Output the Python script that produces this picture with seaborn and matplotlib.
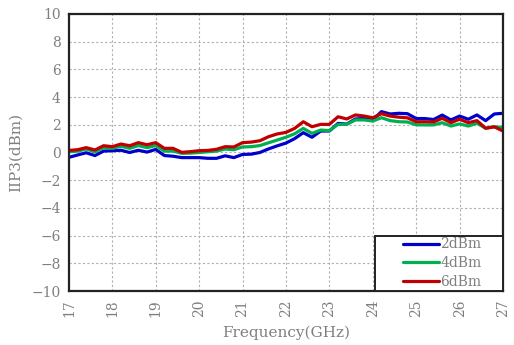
import numpy as np
import pandas as pd
import seaborn as sns
import matplotlib
matplotlib.use("Agg")
import matplotlib.pyplot as plt
from matplotlib.patches import Rectangle

freq = [17.0 + 0.2 * i for i in range(51)]

iip3_2dbm = [-0.35, -0.18, -0.02, -0.22, 0.10, 0.13, 0.16, 0.00, 0.16, 0.03,
             0.22, -0.22, -0.27, -0.37, -0.37, -0.37, -0.42, -0.42, -0.24, -0.37,
             -0.14, -0.12, 0.00, 0.26, 0.48, 0.68, 1.00, 1.43, 1.10, 1.55,
             1.55, 2.10, 2.05, 2.42, 2.45, 2.35, 2.95, 2.78, 2.83, 2.80,
             2.45, 2.45, 2.38, 2.70, 2.35, 2.63, 2.40, 2.71, 2.30, 2.78,
             2.83]
iip3_4dbm = [0.05, 0.10, 0.25, 0.05, 0.35, 0.30, 0.45, 0.30, 0.50, 0.35,
             0.50, 0.10, 0.10, -0.06, -0.05, 0.00, 0.05, 0.10, 0.25, 0.20,
             0.40, 0.42, 0.50, 0.70, 0.90, 1.10, 1.35, 1.74, 1.38, 1.62,
             1.58, 2.03, 2.03, 2.35, 2.35, 2.27, 2.51, 2.30, 2.22, 2.20,
             2.00, 1.99, 1.99, 2.15, 1.91, 2.06, 1.91, 2.11, 1.75, 1.86,
             1.80]
iip3_6dbm = [0.15, 0.20, 0.35, 0.18, 0.49, 0.42, 0.61, 0.49, 0.71, 0.56,
             0.71, 0.30, 0.30, 0.01, 0.06, 0.13, 0.15, 0.23, 0.42, 0.40,
             0.71, 0.75, 0.85, 1.14, 1.34, 1.45, 1.74, 2.22, 1.86, 2.03,
             2.03, 2.58, 2.42, 2.71, 2.63, 2.51, 2.80, 2.63, 2.55, 2.50,
             2.22, 2.22, 2.20, 2.47, 2.15, 2.40, 2.15, 2.30, 1.75, 1.85,
             1.55]

series = ["2dBm", "4dBm", "6dBm"]
colors = ["#0000CC", "#00B050", "#C00000"]

df = pd.DataFrame({
    "Frequency": freq * 3,
    "IIP3": iip3_2dbm + iip3_4dbm + iip3_6dbm,
    "Power": [s for s in series for _ in freq],
})

sns.set_theme(style="white")
plt.rcParams["font.family"] = ["DejaVu Serif"]
text_gray = "#7f7f7f"

fig = plt.figure(figsize=(5.14, 3.45), dpi=100)
ax = fig.add_axes([0.134, 0.1565, 0.8446, 0.803])

sns.lineplot(data=df, x="Frequency", y="IIP3", hue="Power",
             palette=dict(zip(series, colors)), linewidth=2.3,
             ax=ax, legend=False)

ax.set_xlim(17, 27)
ax.set_ylim(-10, 10)
ax.set_xticks(range(17, 28))
ax.set_yticks(range(-10, 11, 2))
ax.set_yticklabels([f"{v}".replace("-", "\u2212") for v in range(-10, 11, 2)])
ax.tick_params(axis="both", length=0, labelsize=10, labelcolor=text_gray, pad=6)
for lbl in ax.get_xticklabels():
    lbl.set_rotation(90)

ax.grid(True, color="#b0b0b0", linestyle=(0, (2, 2)), linewidth=0.8)
for sp in ax.spines.values():
    sp.set_color("#222222")
    sp.set_linewidth(1.6)

ax.set_xlabel("Frequency(GHz)", color=text_gray, fontsize=11, labelpad=6)
ax.set_ylabel("IIP3(dBm)", color=text_gray, fontsize=11, labelpad=6)

# legend box anchored to the lower-right corner
ax.add_patch(Rectangle((0.705, 0.0), 0.295, 0.199, transform=ax.transAxes,
                       facecolor="white", edgecolor="#222222", linewidth=1.4,
                       zorder=5))
handles = [plt.Line2D([], [], color=c, linewidth=2.3) for c in colors]
leg = ax.legend(handles, series, loc="center", bbox_to_anchor=(0.86, 0.1),
                frameon=False, fontsize=10, handlelength=2.6,
                handletextpad=0.1, labelspacing=0.35, borderpad=0)
leg.set_zorder(6)
for t in leg.get_texts():
    t.set_color(text_gray)

fig.savefig("out.png", dpi=100)
